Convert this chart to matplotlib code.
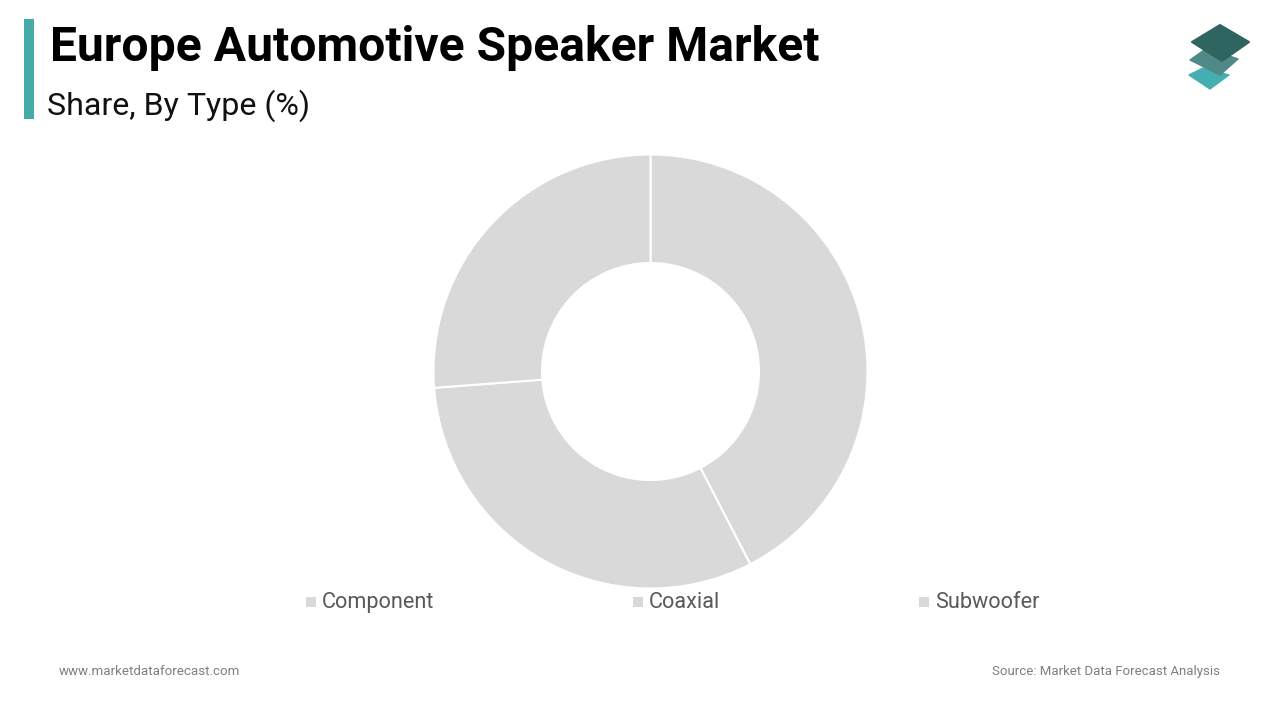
import matplotlib
matplotlib.use('Agg')
import matplotlib.pyplot as plt
from matplotlib.patches import Rectangle, Polygon

types = ['Component', 'Coaxial', 'Subwoofer']
shares = [42.4, 31.4, 26.2]
legend_x = [306, 633, 919]

W, H = 1280, 720
plt.rcParams['font.family'] = ['Roboto', 'DejaVu Sans']
fig = plt.figure(figsize=(W / 100, H / 100), dpi=100, facecolor='white')

# overlay in pixel coordinates, y going down like the screenshot
bg = fig.add_axes([0, 0, 1, 1])
bg.set_xlim(0, W)
bg.set_ylim(H, 0)
bg.axis('off')

bg.add_patch(Rectangle((24, 19), 10, 100, color='#45aaa8', lw=0))
bg.text(50, 61, 'Europe Automotive Speaker Market', fontsize=34.55, fontweight='bold',
        color='black', va='baseline', ha='left')
bg.text(47, 115, 'Share, By Type (%)', fontsize=23.1, color='#111111', va='baseline', ha='left')

# logo
bg.add_patch(Polygon([(1189, 75), (1203, 68), (1229, 75), (1210, 89)], closed=True, fc='#45aeb0', ec='#45aeb0', lw=1, joinstyle='round'))
bg.add_patch(Polygon([(1190, 60), (1207, 48), (1238, 59), (1220, 75)], closed=True, fc='#4f8a88', ec='#4f8a88', lw=1, joinstyle='round'))
bg.add_patch(Polygon([(1220, 25), (1249, 42), (1222, 61), (1192, 42)], closed=True, fc='#2f6560', ec='#2f6560', lw=1.5, joinstyle='round'))

# donut
cx, cy, r = 650.5, 371.5, 217
ax = fig.add_axes([(cx - r) / W, 1 - (cy + r) / H, 2 * r / W, 2 * r / H])
ax.pie(shares, startangle=90, counterclock=False, colors=['#d9d9d9'] * 3, radius=1,
       wedgeprops=dict(width=0.5, edgecolor='white', linewidth=1.5))
ax.set_xlim(-1, 1)
ax.set_ylim(-1, 1)

# legend
for name, x in zip(types, legend_x):
    bg.add_patch(Rectangle((x, 597), 10, 10, color='#d9d9d9', lw=0))
    bg.text(x + 16, 608, name, fontsize=15.6, color='#595959', va='baseline', ha='left')

bg.text(59, 675, 'www.marketdataforecast.com', fontsize=9.65, color='#7f7f7f', va='baseline', ha='left')
bg.text(1220, 675, 'Source: Market Data Forecast Analysis', fontsize=9.55, color='#7f7f7f', va='baseline', ha='right')

fig.savefig('out.png', dpi=100)
